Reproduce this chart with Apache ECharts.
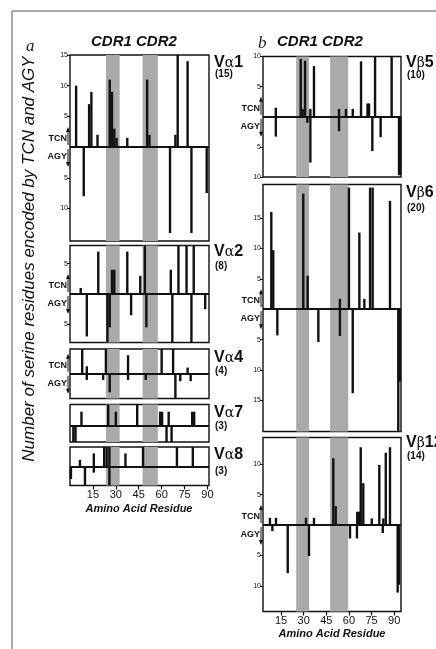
<!DOCTYPE html>
<html><head><meta charset="utf-8">
<script src="https://cdn.jsdelivr.net/npm/echarts@6/dist/echarts.min.js"></script>
<style>html,body{margin:0;padding:0;background:#fff}#c{width:436px;height:649px}</style>
</head><body><div id="c"></div>
<script>
// ---- data (residue, count) ----
const residueTicks = [15, 30, 45, 60, 75, 90];
const cdrLeft = [[23.5, 32.5], [47.5, 57.5]];
const cdrRight = [[25, 33.5], [47.5, 59.5]];

const va1Up = [[4,10],[12.5,7],[14,9],[18,2],[26,11],[27.5,9],[29,3],[30.5,1.5],[37.5,1.5],[50.5,11],[52,2],[69,2],[70.5,15],[77,14]];
const va1Down = [[9,8],[65.5,14],[79.5,14],[89.5,7.5]];
const va2Up = [[7,1],[18.5,7],[27.5,4],[29,4],[37.5,7],[46,3],[49,8],[66,4],[71,8],[76.3,8],[81,8]];
const va2Down = [[11,7],[24.5,8],[26,5.5],[40,3.5],[50,5.5],[67,8],[79.5,8],[88.5,2.5]];
const va4Up = [[8,4],[11,1.2],[23.5,4],[38,3],[60,4],[67.5,4],[77,1]];
const va4Down = [[11,1],[21.7,1],[26,3],[38,1],[49.6,1],[69,4],[72.2,1.2],[79,1.2]];
const va7Up = [[7.5,2],[25,3],[30,2],[44,3],[59,2],[60.3,2],[64.6,2],[80,2],[81.3,2]];
const va7Down = [[2.2,2.2],[3.6,2.2],[63.2,2.2],[66.5,2.2]];
const va8Up = [[6.5,1],[15.6,2],[22.4,3],[24,3],[25.8,3],[36.3,2],[47.8,3],[70,3],[80.4,3]];
const va8Down = [[0.6,2],[9.8,3],[15.6,1],[25.8,3]];

const vb5Up = [[11.5,1.5],[28,9.6],[29.3,1.3],[30.9,9.3],[34.4,1.3],[36.8,8.4],[53.4,1.3],[58,1.3],[62.5,1.3],[68,9.2],[72.3,2.2],[73.3,2.2],[77.3,10],[88.3,10]];
const vb5Down = [[11.5,3.3],[32.4,1],[34.4,7.6],[53.4,2.4],[75.5,5.7],[81,3.4],[93.2,9.7],[94,9.7]];
const vb6Up = [[8.5,16],[9.8,9.7],[29.7,19],[32.6,5.5],[54,1.7],[60,20],[66.9,12.6],[70.2,1.7],[74,20],[75.7,20],[87.2,17.8]];
const vb6Down = [[12.5,4.3],[39.7,5.4],[54,4.4],[62.5,13.8],[92.7,20],[93.8,11.9]];
const vb12Up = [[7.6,1.2],[11.6,1.2],[31.5,1.2],[36.8,1.2],[49.6,11],[51.2,3.1],[65.5,2.2],[66.7,2.2],[67.8,12.8],[69.5,6.9],[75.1,1.1],[80.1,9.9],[82.8,1.1],[84.4,11.9],[87.2,12.8]];
const vb12Down = [[9.2,1],[19.4,7.9],[33.5,5.1],[60.7,2.2],[65.3,2.2],[82.4,1.3],[92.3,11.1],[93.2,9.8]];

const panelNames = ['α1','α2','α4','α7','α8','β5','β6','β12'];
const panelCounts = ['(15)','(8)','(4)','(3)','(3)','(10)','(20)','(14)'];

// ---- layout ----
const fam = "'Liberation Sans', Arial, Helvetica, sans-serif";
const cols = [
  {left: 70, width: 139, xr: [0, 91], cdr: cdrLeft, labX: 214},
  {left: 263, width: 138, xr: [3, 94.5], cdr: cdrRight, labX: 406}
];
const panels = [
  {up: va1Up, down: va1Down, col: 0, top: 55, h: 186, y: [-15.3, 15], ticks: [-10,-5,5,10,15], tcn: true, capL: 58, capN: 71.5},
  {up: va2Up, down: va2Down, col: 0, top: 245.5, h: 97, y: [-8, 8], ticks: [-5,5], tcn: true, capL: 247, capN: 263},
  {up: va4Up, down: va4Down, col: 0, top: 349, h: 49.5, y: [-4, 4], ticks: [], tcn: true, capL: 353, capN: 368},
  {up: va7Up, down: va7Down, col: 0, top: 404.5, h: 37.5, y: [-2.2, 3], ticks: [], tcn: false, capL: 408, capN: 423},
  {up: va8Up, down: va8Down, col: 0, top: 447, h: 38.5, y: [-3, 3], ticks: [], tcn: false, capL: 450, capN: 468, bottom: true},
  {up: vb5Up, down: vb5Down, col: 1, top: 56.5, h: 120.5, y: [-10, 10], ticks: [-10,-5,5,10], tcn: true, capL: 58, capN: 72.5},
  {up: vb6Up, down: vb6Down, col: 1, top: 184.5, h: 247, y: [-20.1, 20.5], ticks: [-15,-10,-5,5,10,15], tcn: true, capL: 188, capN: 205},
  {up: vb12Up, down: vb12Down, col: 1, top: 437.5, h: 174, y: [-14.2, 14.4], ticks: [-10,-5,5,10], tcn: true, capL: 438, capN: 453, bottom: true}
];

const chart = echarts.init(document.getElementById('c'), null, {renderer: 'canvas'});

const grid = [], xAxis = [], yAxis = [], series = [];
panels.forEach((p, i) => {
  const c = cols[p.col];
  grid.push({left: c.left, top: p.top, width: c.width, height: p.h, show: true,
    borderColor: '#111', borderWidth: 1.4, backgroundColor: 'transparent', outerBoundsMode: 'none'});
  xAxis.push({type: 'value', gridIndex: i, min: c.xr[0], max: c.xr[1],
    axisLine: {show: false, onZero: false}, splitLine: {show: false},
    axisTick: p.bottom ? {show: true, customValues: residueTicks, inside: false, length: 4, lineStyle: {color: '#111', width: 1.2}} : {show: false},
    axisLabel: p.bottom ? {show: true, customValues: residueTicks, fontSize: 11, color: '#111', margin: 4, fontFamily: fam} : {show: false}
  });
  yAxis.push({type: 'value', gridIndex: i, min: p.y[0], max: p.y[1],
    axisLine: {show: false}, splitLine: {show: false},
    axisTick: p.ticks.length ? {show: true, customValues: p.ticks, inside: false, length: 3, lineStyle: {color: '#111'}} : {show: false},
    axisLabel: p.ticks.length ? {show: true, customValues: p.ticks, formatter: v => String(Math.abs(v)), fontSize: 7, color: '#111', margin: 2, fontFamily: fam} : {show: false}
  });
  const data = p.up.map(d => [d[0], d[1]]).concat(p.down.map(d => [d[0], -d[1]]));
  series.push({type: 'bar', xAxisIndex: i, yAxisIndex: i, data: data, barWidth: 2.4,
    itemStyle: {color: '#111'}, z: 3, silent: true, animation: false,
    markArea: {silent: true, itemStyle: {color: '#aaaaaa'},
      data: c.cdr.map(r => [{xAxis: r[0]}, {xAxis: r[1]}])},
    markLine: {silent: true, symbol: ['none', 'none'], label: {show: false},
      lineStyle: {color: '#111', width: 2, type: 'solid'}, data: [{yAxis: 0}]}
  });
});

chart.setOption({animation: false, backgroundColor: '#fff', grid, xAxis, yAxis, series});

// ---- texts & decorations ----
const g = [];
g.push({type: 'rect', shape: {x: 12, y: 11, width: 440, height: 660}, style: {fill: 'none', stroke: '#555', lineWidth: 1}, silent: true});
g.push({type: 'text', x: 26, y: 38, style: {text: 'a', font: "italic 17px 'Liberation Serif', serif", fill: '#222'}});
g.push({type: 'text', x: 258, y: 35, style: {text: 'b', font: "italic 17px 'Liberation Serif', serif", fill: '#222'}});
g.push({type: 'text', x: 91, y: 34, style: {text: 'CDR1 CDR2', font: 'italic bold 15px ' + fam, fill: '#111'}});
g.push({type: 'text', x: 277, y: 34, style: {text: 'CDR1 CDR2', font: 'italic bold 15px ' + fam, fill: '#111'}});
g.push({type: 'text', x: 29, y: 259, rotation: Math.PI / 2,
  style: {text: 'Number of serine residues encoded by TCN and AGY', font: 'italic 17px ' + fam, fill: '#111', textAlign: 'center', textVerticalAlign: 'middle'}});
g.push({type: 'text', x: 139, y: 509, style: {text: 'Amino Acid Residue', font: 'italic bold 11px ' + fam, fill: '#111', textAlign: 'center', textVerticalAlign: 'middle'}});
g.push({type: 'text', x: 332, y: 634, style: {text: 'Amino Acid Residue', font: 'italic bold 11px ' + fam, fill: '#111', textAlign: 'center', textVerticalAlign: 'middle'}});

panels.forEach((p, i) => {
  const c = cols[p.col];
  g.push({type: 'text', x: c.labX, y: p.capL - 3, style: {
    text: '{v|V}{g|' + panelNames[i].charAt(0) + '}{v|' + panelNames[i].slice(1) + '}',
    rich: {v: {font: 'bold 16px ' + fam, fill: '#111'}, g: {font: "14px 'DejaVu Serif', serif", fill: '#111'}},
    textVerticalAlign: 'top'}});
  g.push({type: 'text', x: c.labX + 1, y: p.capN - 2, style: {text: panelCounts[i], font: 'bold 10px ' + fam, fill: '#111', textVerticalAlign: 'top'}});
  if (p.tcn) {
    const base = chart.convertToPixel({gridIndex: i}, [c.xr[0], 0])[1];
    const ax = c.left - 2;
    g.push({type: 'text', x: c.left - 3, y: base - 8.5, style: {text: 'TCN', font: 'bold 9px ' + fam, fill: '#111', textAlign: 'right', textVerticalAlign: 'middle'}});
    g.push({type: 'text', x: c.left - 3, y: base + 9.5, style: {text: 'AGY', font: 'bold 9px ' + fam, fill: '#111', textAlign: 'right', textVerticalAlign: 'middle'}});
    g.push({type: 'line', shape: {x1: ax, y1: base - 2, x2: ax, y2: base - 18}, style: {stroke: '#111', lineWidth: 1}});
    g.push({type: 'polygon', shape: {points: [[ax - 2, base - 15], [ax + 2, base - 15], [ax, base - 20]]}, style: {fill: '#111'}});
    g.push({type: 'line', shape: {x1: ax, y1: base + 2, x2: ax, y2: base + 18}, style: {stroke: '#111', lineWidth: 1}});
    g.push({type: 'polygon', shape: {points: [[ax - 2, base + 15], [ax + 2, base + 15], [ax, base + 20]]}, style: {fill: '#111'}});
  }
});
chart.setOption({graphic: g});
</script></body></html>
